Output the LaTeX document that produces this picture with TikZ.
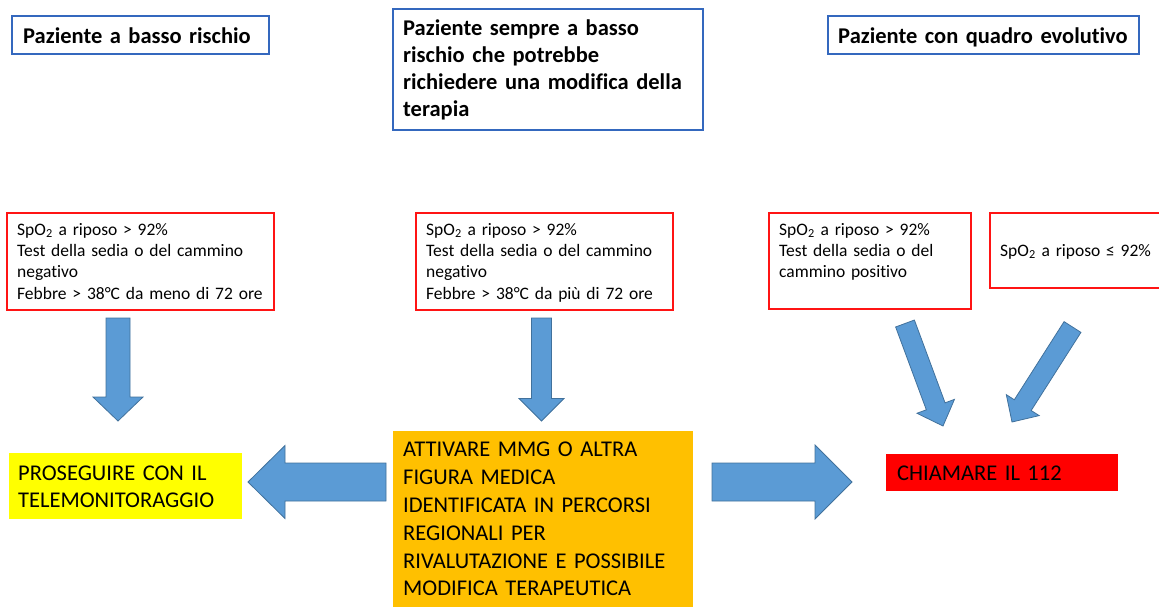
\documentclass[tikz,border=0pt]{standalone}
\usepackage{fontspec}
\setmainfont{Carlito}[Ligatures=NoCommon]
\usetikzlibrary{calc}
\definecolor{hdrblue}{RGB}{52,104,190}
\definecolor{boxred}{RGB}{255,20,20}
\definecolor{arrfill}{RGB}{91,155,213}
\definecolor{arrline}{RGB}{65,113,156}
\definecolor{ylw}{RGB}{255,255,0}
\definecolor{org}{RGB}{255,192,0}
\definecolor{alarm}{RGB}{255,0,0}
\tikzset{
  hdrbox/.style={draw=hdrblue, line width=1.3pt, fill=white, inner sep=0pt},
  condbox/.style={draw=boxred, line width=1.3pt, fill=white, inner sep=0pt},
  fillbox/.style={draw=none, inner sep=0pt},
  hdrtext/.style={anchor=north west, inner sep=0pt, align=left, text width=#1,
    font=\fontsize{22.5}{27}\selectfont\bfseries},
  condtext/.style={anchor=north west, inner sep=0pt, align=left, text width=#1,
    font=\fontsize{17.5}{21.3}\selectfont},
  bigtext/.style={anchor=north west, inner sep=0pt, align=left, text width=#1,
    font=\fontsize{22.5}{27.8}\selectfont},
  blockarrow/.style={fill=arrfill, draw=arrline, line width=0.8pt, line join=miter}
}
% #1 name, #2 start, #3 tip, #4 half shaft, #5 half head, #6 head length
\newcommand\blockarrow[6]{%
  \coordinate (#1-s) at #2;
  \coordinate (#1-t) at #3;
  \coordinate (#1-h) at ($(#1-t)!#6!(#1-s)$);
  \draw[blockarrow] ($(#1-s)!#4!90:(#1-t)$) -- ($(#1-h)!#4!90:(#1-t)$)
    -- ($(#1-h)!#5!90:(#1-t)$) -- (#1-t) -- ($(#1-h)!#5!-90:(#1-t)$)
    -- ($(#1-h)!#4!-90:(#1-t)$) -- ($(#1-s)!#4!-90:(#1-t)$) -- cycle;
}
\begin{document}
\begin{tikzpicture}[x=1pt,y=-1pt]
\useasboundingbox (0,0) rectangle (1159,606);

% header boxes
\node[hdrbox, minimum width=257pt, minimum height=38pt] (h1) at (140.5,35) {};
\node[hdrtext=250pt] (h1t) at (23,24.1) {\strut Paziente a basso rischio};
\node[hdrbox, minimum width=310pt, minimum height=121pt] (h2) at (548,69.5) {};
\node[hdrtext=295pt] (h2t) at (403,16.1) {\strut Paziente sempre a basso\\rischio che potrebbe\\richiedere una modifica della\\terapia};
\node[hdrbox, minimum width=311pt, minimum height=38pt] (h3) at (983.5,35) {};
\node[hdrtext=300pt] (h3t) at (838,24.1) {\strut Paziente con quadro evolutivo};

% condition boxes
\node[condbox, minimum width=267pt, minimum height=97pt] (c1) at (140.5,261.5) {};
\node[condtext=262pt] (c1t) at (17,220.1) {\strut SpO\textsubscript{2} a riposo > 92\%\\Test della sedia o del cammino\\negativo\\Febbre > 38°C da meno di 72 ore};
\node[condbox, minimum width=257pt, minimum height=97pt] (c2) at (544.5,261.5) {};
\node[condtext=250pt] (c2t) at (426,220.1) {\strut SpO\textsubscript{2} a riposo > 92\%\\Test della sedia o del cammino\\negativo\\Febbre > 38°C da più di 72 ore};
\node[condbox, minimum width=202pt, minimum height=96pt] (c3) at (870,261) {};
\node[condtext=195pt] (c3t) at (779,220.1) {\strut SpO\textsubscript{2} a riposo > 92\%\\Test della sedia o del\\cammino positivo};
\node[condbox, minimum width=175pt, minimum height=75pt] (c4) at (1077.5,250.5) {};
\node[condtext=165pt] (c4t) at (1000,241.1) {\strut SpO\textsubscript{2} a riposo ≤ 92\%};

% outcome boxes
\node[fillbox, fill=ylw, minimum width=233pt, minimum height=66pt] (o1) at (125.5,486) {};
\node[bigtext=230pt] (o1t) at (18,460.5) {\strut PROSEGUIRE CON IL\\TELEMONITORAGGIO};
\node[fillbox, fill=org, minimum width=300pt, minimum height=176pt] (o2) at (543,519) {};
\node[bigtext=295pt] (o2t) at (403,437.2) {\strut ATTIVARE MMG O ALTRA\\FIGURA MEDICA\\IDENTIFICATA IN PERCORSI\\REGIONALI PER\\RIVALUTAZIONE E POSSIBILE\\MODIFICA TERAPEUTICA};
\node[fillbox, fill=alarm, minimum width=232pt, minimum height=37pt] (o3) at (1002,472.5) {};
\node[bigtext=225pt] (o3t) at (897,461.2) {\strut CHIAMARE IL 112};

% block arrows
\blockarrow{a1}{(118,318)}{(118,421)}{12pt}{25pt}{24pt}
\blockarrow{a2}{(541.5,318)}{(541.5,421)}{10pt}{22.5pt}{22.5pt}
\blockarrow{a3}{(905,323.5)}{(943,426)}{10pt}{20pt}{21pt}
\blockarrow{a4}{(1072.5,327)}{(1012,422)}{10pt}{19.5pt}{20pt}
\blockarrow{al}{(386,482)}{(248,482)}{19pt}{36.5pt}{37pt}
\blockarrow{ar}{(712,482)}{(852,482)}{19pt}{37pt}{37pt}
\end{tikzpicture}
\end{document}
